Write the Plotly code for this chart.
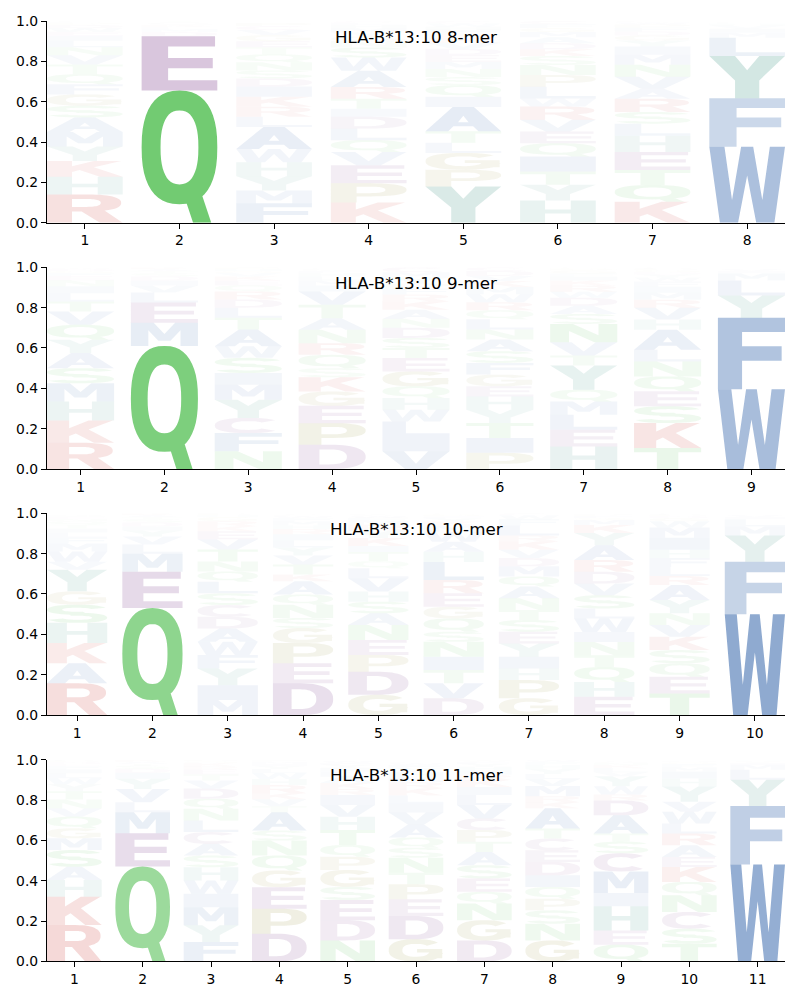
import math
import plotly.graph_objects as go

# ---------------- data ----------------
allele = "HLA-B*13:10"
peptide_lengths = [8, 9, 10, 11]

# letters per position, listed bottom -> top, with their heights (frequencies)
letters_8mer = ["RHKYMASGFQTVNLIEWDPC", "QEDMLKSAT", "FMYHWALRKIDSNQTEGVCP",
                "KPEVQLDITRAWSNGYMHFC", "YPGLTAIQSNMEDVKRFHWC", "HYTIQEVRWLPNSKDAMGFC",
                "KQTEHLSRAVNMIYGDFPWC", "WFYLMIVHCA"]
heights_8mer = [
    [.14, .088, .078, .072, .072, .072, .058, .056, .05, .05, .048, .046, .04, .032, .025, .02, .018, .015, .01, .008],
    [.655, .27, .02, .015, .01, .01, .008, .007, .005],
    [.096, .064, .07, .07, .065, .11, .05, .05, .05, .05, .04, .04, .04, .04, .035, .03, .03, .025, .02, .015],
    [.1, .095, .09, .066, .058, .058, .058, .04, .05, .058, .08, .066, .05, .03, .025, .02, .02, .015, .01, .01],
    [.18, .083, .083, .05, .058, .12, .05, .058, .04, .04, .035, .035, .03, .03, .025, .02, .02, .015, .015, .013],
    [.11, .078, .066, .074, .066, .058, .058, .066, .04, .058, .058, .05, .045, .033, .03, .03, .025, .02, .02, .015],
    [.104, .083, .074, .09, .08, .06, .058, .066, .05, .058, .06, .05, .04, .03, .025, .02, .02, .015, .01, .006],
    [.377, .24, .21, .09, .025, .02, .015, .01, .006, .005],
]

letters_9mer = ["RKHMSAYQVTLINEFGDWPC", "QMELVIDSTAK", "NFCYMISWATLDRQEKVGHP",
                "DPEGKSQRNATVIMLHFWCY", "VILWHQGETSDNAKRFPYMC", "PITYHEGFSANLQRWMKVDC",
                "HELMQYTVNSADWRKIFGPC", "TKSEQNLAHVRMIFWYDGPC", "WFYLMIVHC"]
heights_9mer = [
    [.13, .11, .095, .09, .075, .075, .066, .074, .066, .05, .04, .035, .03, .02, .015, .01, .01, .006, .003, .003],
    [.61, .115, .1, .05, .035, .025, .02, .015, .01, .01, .01],
    [.088, .09, .075, .09, .075, .058, .075, .058, .083, .058, .05, .04, .04, .03, .025, .02, .015, .01, .01, .01],
    [.12, .107, .086, .071, .071, .045, .066, .058, .066, .058, .066, .066, .03, .025, .02, .015, .01, .008, .006, .005],
    [.088, .074, .074, .058, .058, .058, .074, .066, .05, .05, .05, .045, .045, .04, .035, .03, .025, .03, .025, .025],
    [.08, .074, .074, .066, .066, .05, .058, .058, .058, .058, .05, .05, .045, .04, .04, .035, .03, .025, .025, .018],
    [.112, .083, .074, .066, .058, .12, .05, .066, .09, .05, .04, .04, .03, .03, .025, .02, .015, .015, .01, .006],
    [.104, .124, .083, .074, .074, .074, .058, .1, .05, .058, .04, .035, .03, .025, .02, .015, .012, .01, .008, .006],
    [.395, .355, .11, .075, .035, .01, .01, .005, .005],
]

letters_10mer = ["RAKHSGYVWMFLITQNEDPC", "QEMLVYIDSTAK", "MIYFWADCSLQNTVEKRGHP",
                 "DEPGSNQAKTVYLIRHMFWC", "GDPENASHVLQTIKYRMFWC", "DVTINSQGERLHAWMKYFPC",
                 "GPHIYESTNAQMDVKRLFWC", "EHQTNIWLSVDRAYKMGFPC", "TEQSKVNYARLFHIMWGDPC",
                 "WFYMLIVHC"]
heights_10mer = [
    [.157, .1, .1, .1, .09, .066, .107, .04, .05, .04, .03, .025, .02, .02, .015, .012, .01, .008, .005, .005],
    [.53, .18, .09, .045, .04, .03, .02, .02, .015, .01, .01, .01],
    [.074, .074, .083, .066, .066, .066, .058, .058, .058, .058, .05, .05, .06, .05, .04, .025, .025, .02, .01, .009],
    [.157, .1, .1, .074, .05, .066, .05, .066, .033, .05, .045, .04, .035, .03, .025, .02, .02, .015, .01, .008],
    [.1, .115, .083, .074, .074, .058, .058, .05, .066, .05, .035, .045, .03, .04, .035, .03, .02, .015, .01, .008],
    [.083, .074, .066, .066, .074, .05, .066, .058, .066, .066, .09, .05, .05, .05, .03, .02, .015, .01, .01, .006],
    [.083, .09, .058, .058, .066, .058, .058, .05, .058, .058, .05, .05, .041, .041, .041, .03, .05, .03, .02, .01],
    [.09, .074, .074, .058, .066, .05, .066, .05, .066, .058, .058, .058, .074, .06, .04, .025, .01, .01, .008, .005],
    [.107, .083, .066, .066, .066, .058, .058, .066, .074, .045, .045, .045, .04, .06, .05, .032, .015, .01, .008, .006],
    [.5, .26, .13, .045, .035, .01, .01, .005, .005],
]

letters_11mer = ["RKHASMGQVNTYWLIFEDPC", "QEMLVYIDSTAK", "FYMIWHSACLNQDVTERKGP",
                 "DPEGQNSATVKRHWLYIMFC", "NDESGPQTHVIRKALMYFWC", "GDEPTNSQAVILKRMHYFWC",
                 "DGNQESATPCVLIKRMHYFW", "GNSPQIDECTAKRMVLYHFW", "QEHIMCSTADRWYVLKNGFP",
                 "TSCNQKEARLWVYHIMFGDP", "WFYLMIVH"]
heights_11mer = [
    [.18, .14, .083, .066, .083, .058, .05, .058, .04, .045, .04, .035, .03, .025, .02, .015, .01, .01, .008, .006],
    [.47, .165, .104, .05, .066, .05, .03, .02, .015, .01, .01, .01],
    [.096, .083, .09, .066, .066, .066, .058, .058, .058, .058, .058, .05, .05, .04, .03, .025, .015, .015, .01, .008],
    [.137, .124, .107, .083, .074, .074, .05, .09, .03, .035, .03, .04, .03, .03, .02, .015, .01, .01, .008, .005],
    [.104, .1, .1, .066, .083, .066, .058, .074, .066, .058, .05, .03, .03, .03, .025, .02, .015, .01, .01, .005],
    [.11, .115, .083, .074, .058, .074, .05, .05, .066, .058, .045, .04, .035, .03, .025, .025, .02, .015, .01, .007],
    [.104, .1, .083, .058, .066, .066, .066, .05, .058, .058, .066, .05, .04, .035, .025, .02, .02, .015, .01, .008],
    [.104, .083, .066, .058, .058, .058, .066, .058, .058, .05, .1, .03, .03, .05, .035, .025, .025, .02, .015, .01],
    [.083, .07, .12, .066, .107, .09, .058, .04, .09, .074, .03, .04, .05, .02, .02, .015, .01, .008, .005, .004],
    [.088, .074, .083, .083, .066, .074, .05, .058, .058, .05, .058, .05, .075, .04, .035, .02, .015, .01, .008, .005],
    [.48, .29, .13, .05, .025, .01, .008, .005],
]

panel_letters = [letters_8mer, letters_9mer, letters_10mer, letters_11mer]
panel_heights = [heights_8mer, heights_9mer, heights_10mer, heights_11mer]

# ---------------- styles ----------------
GROUP_COLORS = {
    "AVLIMFW": (70, 115, 178),
    "HY": (76, 155, 141),
    "QNST": (80, 190, 80),
    "GP": (150, 145, 60),
    "DEC": (135, 75, 148),
    "KR": (205, 70, 65),
}
LETTER_COLOR = {ch: col for grp, col in GROUP_COLORS.items() for ch in grp}


def letter_alpha(h):
    return min(1.0, 1.25 * h ** 1.05)


# ---------------- glyph outlines (unit box) ----------------
def arc(cx, cy, rx, ry, a0, a1, n=28, p=2.4):
    """super-ellipse arc (p=2 is a plain ellipse)"""
    pts = []
    e = 2.0 / p
    for i in range(n + 1):
        a = math.radians(a0 + (a1 - a0) * i / n)
        c, s = math.cos(a), math.sin(a)
        pts.append((cx + rx * math.copysign(abs(c) ** e, c), cy + ry * math.copysign(abs(s) ** e, s)))
    return pts


def ellipse(cx, cy, rx, ry, n=48, p=2.4):
    return arc(cx, cy, rx, ry, 0, 360, n, p)[:-1]


def rect(x0, y0, x1, y1):
    return [(x0, y0), (x1, y0), (x1, y1), (x0, y1)]


S, H_ = True, False
GLYPHS = {
    "A": [(S, [(0, 0), (0.3, 0), (0.37, 0.2), (0.63, 0.2), (0.7, 0), (1, 0), (0.64, 1), (0.36, 1)]),
          (H_, [(0.43, 0.37), (0.57, 0.37), (0.5, 0.64)])],
    "C": [(S, arc(0.5, 0.5, 0.5, 0.5, 40, 320) + arc(0.5, 0.5, 0.25, 0.29, 320, 40))],
    "D": [(S, [(0, 0), (0.45, 0)] + arc(0.45, 0.5, 0.55, 0.5, -90, 90)[1:-1] + [(0.45, 1), (0, 1)]),
          (H_, [(0.31, 0.19), (0.45, 0.19)] + arc(0.45, 0.5, 0.27, 0.31, -90, 90)[1:-1] + [(0.45, 0.81), (0.31, 0.81)])],
    "E": [(S, [(0, 0), (1, 0), (1, 0.19), (0.35, 0.19), (0.35, 0.41), (0.94, 0.41), (0.94, 0.6),
               (0.35, 0.6), (0.35, 0.81), (0.97, 0.81), (0.97, 1), (0, 1)])],
    "F": [(S, [(0, 0), (0.36, 0), (0.36, 0.4), (0.95, 0.4), (0.95, 0.6), (0.36, 0.6), (0.36, 0.8),
               (1, 0.8), (1, 1), (0, 1)])],
    "G": [(S, arc(0.5, 0.5, 0.5, 0.5, 40, 350) + arc(0.5, 0.5, 0.25, 0.29, 350, 40)),
          (S, rect(0.52, 0.4, 0.98, 0.56)),
          (S, rect(0.74, 0.14, 0.98, 0.56))],
    "H": [(S, [(0, 0), (0.33, 0), (0.33, 0.41), (0.67, 0.41), (0.67, 0), (1, 0), (1, 1), (0.67, 1),
               (0.67, 0.6), (0.33, 0.6), (0.33, 1), (0, 1)])],
    "I": [(S, rect(0, 0, 1, 1))],
    "K": [(S, [(0, 0), (0.33, 0), (0.33, 0.3), (0.43, 0.42), (0.7, 0), (1, 0), (0.62, 0.6), (0.98, 1),
               (0.62, 1), (0.33, 0.66), (0.33, 1), (0, 1)])],
    "L": [(S, [(0, 0), (1, 0), (1, 0.2), (0.35, 0.2), (0.35, 1), (0, 1)])],
    "M": [(S, [(0, 0), (0.26, 0), (0.26, 0.68), (0.41, 0.22), (0.59, 0.22), (0.74, 0.68), (0.74, 0),
               (1, 0), (1, 1), (0.66, 1), (0.5, 0.52), (0.34, 1), (0, 1)])],
    "N": [(S, [(0, 0), (0.28, 0), (0.28, 0.62), (0.66, 0), (1, 0), (1, 1), (0.72, 1), (0.72, 0.38),
               (0.34, 1), (0, 1)])],
    "P": [(S, [(0, 0), (0.34, 0), (0.34, 0.32), (0.52, 0.32)] + arc(0.52, 0.66, 0.48, 0.34, -90, 90)[1:-1]
           + [(0.52, 1), (0, 1)]),
          (H_, [(0.34, 0.49), (0.52, 0.49)] + arc(0.52, 0.66, 0.2, 0.17, -90, 90)[1:-1] + [(0.52, 0.83), (0.34, 0.83)])],
    "Q": [(S, ellipse(0.5, 0.57, 0.5, 0.43)),
          (H_, ellipse(0.5, 0.57, 0.25, 0.28)),
          (S, [(0.54, 0.24), (0.78, 0.24), (0.92, 0), (0.68, 0)])],
    "R": [(S, [(0, 0), (0.33, 0), (0.33, 0.4), (0.52, 0.4)] + arc(0.52, 0.7, 0.46, 0.3, -90, 90)[1:-1]
           + [(0.52, 1), (0, 1)]),
          (H_, [(0.33, 0.56), (0.52, 0.56)] + arc(0.52, 0.7, 0.19, 0.14, -90, 90)[1:-1] + [(0.52, 0.84), (0.33, 0.84)]),
          (S, [(0.42, 0.46), (0.7, 0), (1, 0), (0.72, 0.5)])],
    "S": [(S, arc(0.5, 0.72, 0.5, 0.28, 20, 290, p=2.2) + arc(0.5, 0.72, 0.25, 0.11, 290, 20, p=2.2)),
          (S, arc(0.5, 0.28, 0.5, 0.28, 110, -160, p=2.2) + arc(0.5, 0.28, 0.25, 0.11, -160, 110, p=2.2))],
    "T": [(S, [(0, 1), (1, 1), (1, 0.8), (0.66, 0.8), (0.66, 0), (0.34, 0), (0.34, 0.8), (0, 0.8)])],
    "V": [(S, [(0, 1), (0.32, 1), (0.5, 0.3), (0.68, 1), (1, 1), (0.66, 0), (0.34, 0)])],
    "W": [(S, [(0, 1), (0.2, 1), (0.3, 0.3), (0.42, 1), (0.58, 1), (0.7, 0.3), (0.8, 1), (1, 1),
               (0.86, 0), (0.62, 0), (0.5, 0.62), (0.38, 0), (0.14, 0)])],
    "Y": [(S, [(0, 1), (0.34, 1), (0.5, 0.66), (0.66, 1), (1, 1), (0.66, 0.42), (0.66, 0), (0.34, 0),
               (0.34, 0.42)])],
}


def orient(pts, solid):
    n = len(pts)
    area = sum(pts[i][0] * pts[(i + 1) % n][1] - pts[(i + 1) % n][0] * pts[i][1] for i in range(n))
    if (area > 0) != solid:
        pts = pts[::-1]
    return pts


def glyph_path(letter, xc, y0, h, w=0.8):
    parts = []
    for solid, pts in GLYPHS[letter]:
        pts = orient(pts, solid)
        coords = [(xc - w / 2 + w * u, y0 + h * v) for u, v in pts]
        parts.append("M" + "L".join(f"{x:.4f},{y:.5f}" for x, y in coords) + "Z")
    return "".join(parts)


# ---------------- layout geometry ----------------
W, Hpx = 800, 1000
x_dom = [47 / W, 785 / W]
panel_top_px = [21, 267.3, 513.3, 759.7]
panel_h_px = 201.7

fig = go.Figure()
shapes = []
annotations = []
layout = dict(
    width=W, height=Hpx, margin=dict(l=0, r=0, t=0, b=0, pad=0, autoexpand=False),
    paper_bgcolor="white", plot_bgcolor="white", showlegend=False,
    font=dict(family="DejaVu Sans", color="black"),
)

for k, (n, lets, hts) in enumerate(zip(peptide_lengths, panel_letters, panel_heights)):
    suf = "" if k == 0 else str(k + 1)
    top = panel_top_px[k]
    bot = top + panel_h_px
    layout["xaxis" + suf] = dict(
        domain=x_dom, range=[0.6, n + 0.4], anchor="y" + suf, automargin=False,
        tickmode="array", tickvals=list(range(1, n + 1)), ticktext=[str(i) for i in range(1, n + 1)],
        ticks="outside", ticklen=5, tickwidth=1.1, tickcolor="black",
        showline=True, linecolor="black", linewidth=1.1, showgrid=False, zeroline=False,
        tickfont=dict(family="DejaVu Sans", size=13.9, color="black"), fixedrange=True,
    )
    layout["yaxis" + suf] = dict(
        domain=[1 - bot / Hpx, 1 - top / Hpx], range=[0, 1], anchor="x" + suf, automargin=False,
        tickmode="array", tickvals=[0, 0.2, 0.4, 0.6, 0.8, 1.0],
        ticktext=["0.0", "0.2", "0.4", "0.6", "0.8", "1.0"],
        ticks="outside", ticklen=5, tickwidth=1.1, tickcolor="black",
        showline=True, linecolor="black", linewidth=1.1, showgrid=False, zeroline=False,
        tickfont=dict(family="DejaVu Sans", size=13.9, color="black"), fixedrange=True,
    )
    fig.add_trace(go.Scatter(x=[None], y=[None], xaxis="x" + suf, yaxis="y" + suf,
                             mode="markers", hoverinfo="skip", showlegend=False))

    for p, (letter_str, hlist) in enumerate(zip(lets, hts)):
        pos = p + 1
        y0 = 0.0
        for ch, h in zip(letter_str, hlist):
            if h >= 0.003:
                r, g, b = LETTER_COLOR[ch]
                a = letter_alpha(h)
                shapes.append(dict(
                    type="path", path=glyph_path(ch, pos, y0, h),
                    xref="x" + suf, yref="y" + suf,
                    fillcolor=f"rgba({r},{g},{b},{a:.3f})",
                    line=dict(width=0), fillrule="nonzero", layer="below",
                ))
            y0 += h

    annotations.append(dict(
        text=f"{allele} {n}-mer", x=0.5, y=0.923,
        xref=f"x{suf} domain", yref=f"y{suf} domain",
        xanchor="center", yanchor="middle", showarrow=False,
        font=dict(family="DejaVu Sans", size=16.7, color="black"),
    ))

layout["shapes"] = shapes
layout["annotations"] = annotations
fig.update_layout(**layout)
fig.write_html("out.html")
